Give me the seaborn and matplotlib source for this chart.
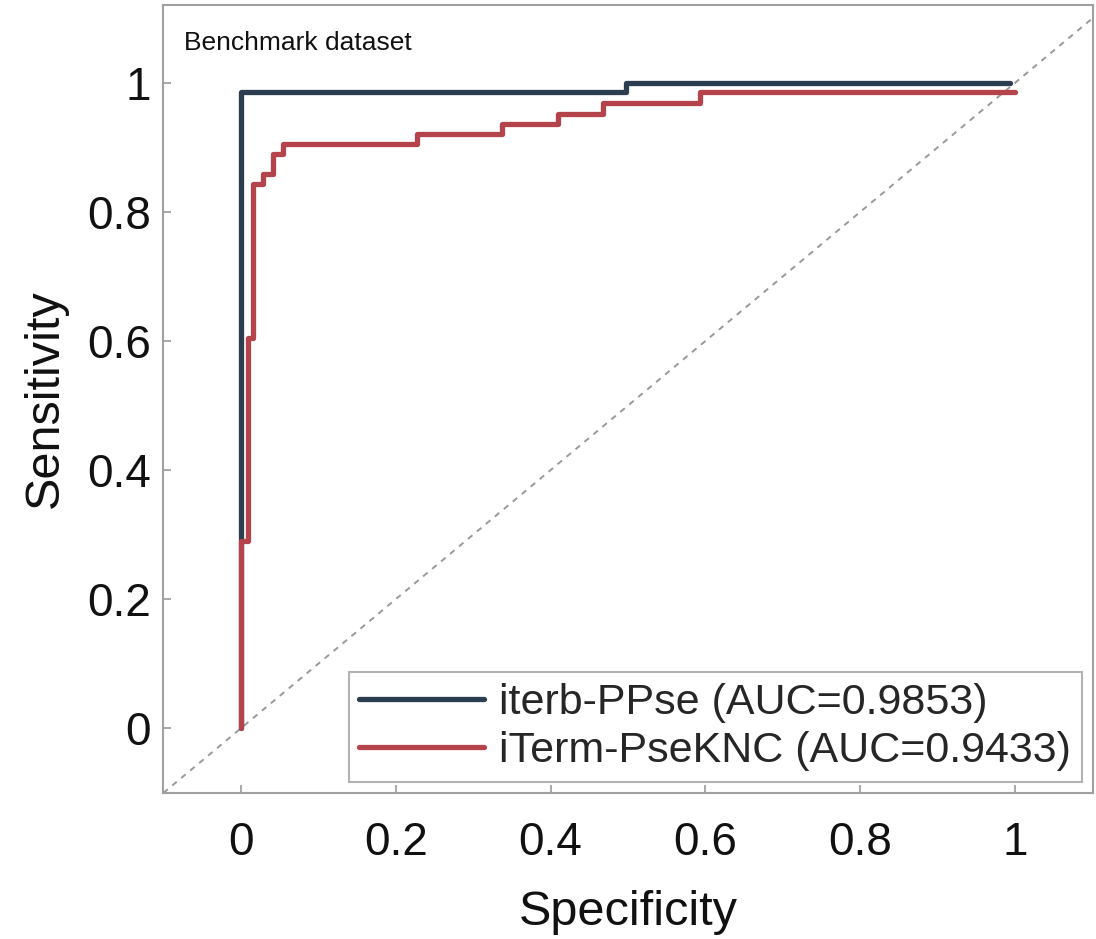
import matplotlib
matplotlib.use("Agg")
import matplotlib.pyplot as plt
import seaborn as sns
import pandas as pd

# ROC curve vertices (1 - specificity shown as "Specificity" axis)
iterb_x = [0.0, 0.0, 0.498, 0.498, 0.993]
iterb_y = [0.0, 0.986, 0.986, 1.0, 1.0]

iterm_x = [0.0, 0.0, 0.009, 0.009, 0.016, 0.016, 0.029, 0.029, 0.041, 0.041,
           0.054, 0.054, 0.227, 0.227, 0.337, 0.337, 0.410, 0.410, 0.468, 0.468,
           0.593, 0.593, 1.0]
iterm_y = [0.0, 0.29, 0.29, 0.605, 0.605, 0.843, 0.843, 0.858, 0.858, 0.89,
           0.89, 0.905, 0.905, 0.921, 0.921, 0.936, 0.936, 0.952, 0.952, 0.969,
           0.969, 0.986, 0.986]

labels = ["iterb-PPse (AUC=0.9853)", "iTerm-PseKNC (AUC=0.9433)"]
colors = ["#2b3d4f", "#b5434b"]
ticks = [0, 0.2, 0.4, 0.6, 0.8, 1]
tick_labels = ["0", "0.2", "0.4", "0.6", "0.8", "1"]

sns.set_theme(style="white")
plt.rcParams['font.family'] = ['Liberation Sans', 'DejaVu Sans']

fig = plt.figure(figsize=(10.96, 9.39), dpi=100)
ax = fig.add_axes([0.149, 0.1555, 0.848, 0.839])

# diagonal reference
ax.plot([-0.1, 1.1], [-0.1, 1.1], linestyle=(0, (3, 3)), color="#999999", lw=1.4, zorder=1)

df1 = pd.DataFrame({"x": iterb_x, "y": iterb_y})
df2 = pd.DataFrame({"x": iterm_x, "y": iterm_y})
sns.lineplot(data=df1, x="x", y="y", sort=False, estimator=None, color=colors[0],
             lw=3.8, label=labels[0], ax=ax, zorder=2)
sns.lineplot(data=df2, x="x", y="y", sort=False, estimator=None, color=colors[1],
             lw=3.8, label=labels[1], ax=ax, zorder=3)

ax.set_xlim(-0.1, 1.1)
ax.set_ylim(-0.1, 1.12)
ax.set_xticks(ticks)
ax.set_xticklabels(tick_labels)
ax.set_yticks(ticks)
ax.set_yticklabels(tick_labels)
ax.tick_params(axis="both", direction="in", length=6, width=1.2, color="#999999",
               labelsize=33, labelcolor="#111111", bottom=True, left=True,
               top=False, right=False)
ax.tick_params(axis="x", pad=20)
ax.tick_params(axis="y", pad=9)
for s in ax.spines.values():
    s.set_color("#a0a0a0")
    s.set_linewidth(1.5)

ax.set_xlabel("Specificity", fontsize=35, color="#111111", labelpad=18)
ax.set_ylabel("Sensitivity", fontsize=35, color="#111111", labelpad=14)

ax.text(0.022, 0.952, "Benchmark dataset", transform=ax.transAxes, fontsize=19,
        color="#111111", ha="left", va="center")

leg = ax.legend(loc="lower right", fontsize=31, frameon=True, fancybox=False,
                handlelength=2.9, handletextpad=0.35, labelspacing=0.2,
                borderpad=0.25, borderaxespad=0.25)
leg.get_frame().set_edgecolor("#a0a0a0")
leg.get_frame().set_linewidth(1.5)
for line in leg.get_lines():
    line.set_linewidth(3.8)

fig.savefig("out.png", dpi=100)
